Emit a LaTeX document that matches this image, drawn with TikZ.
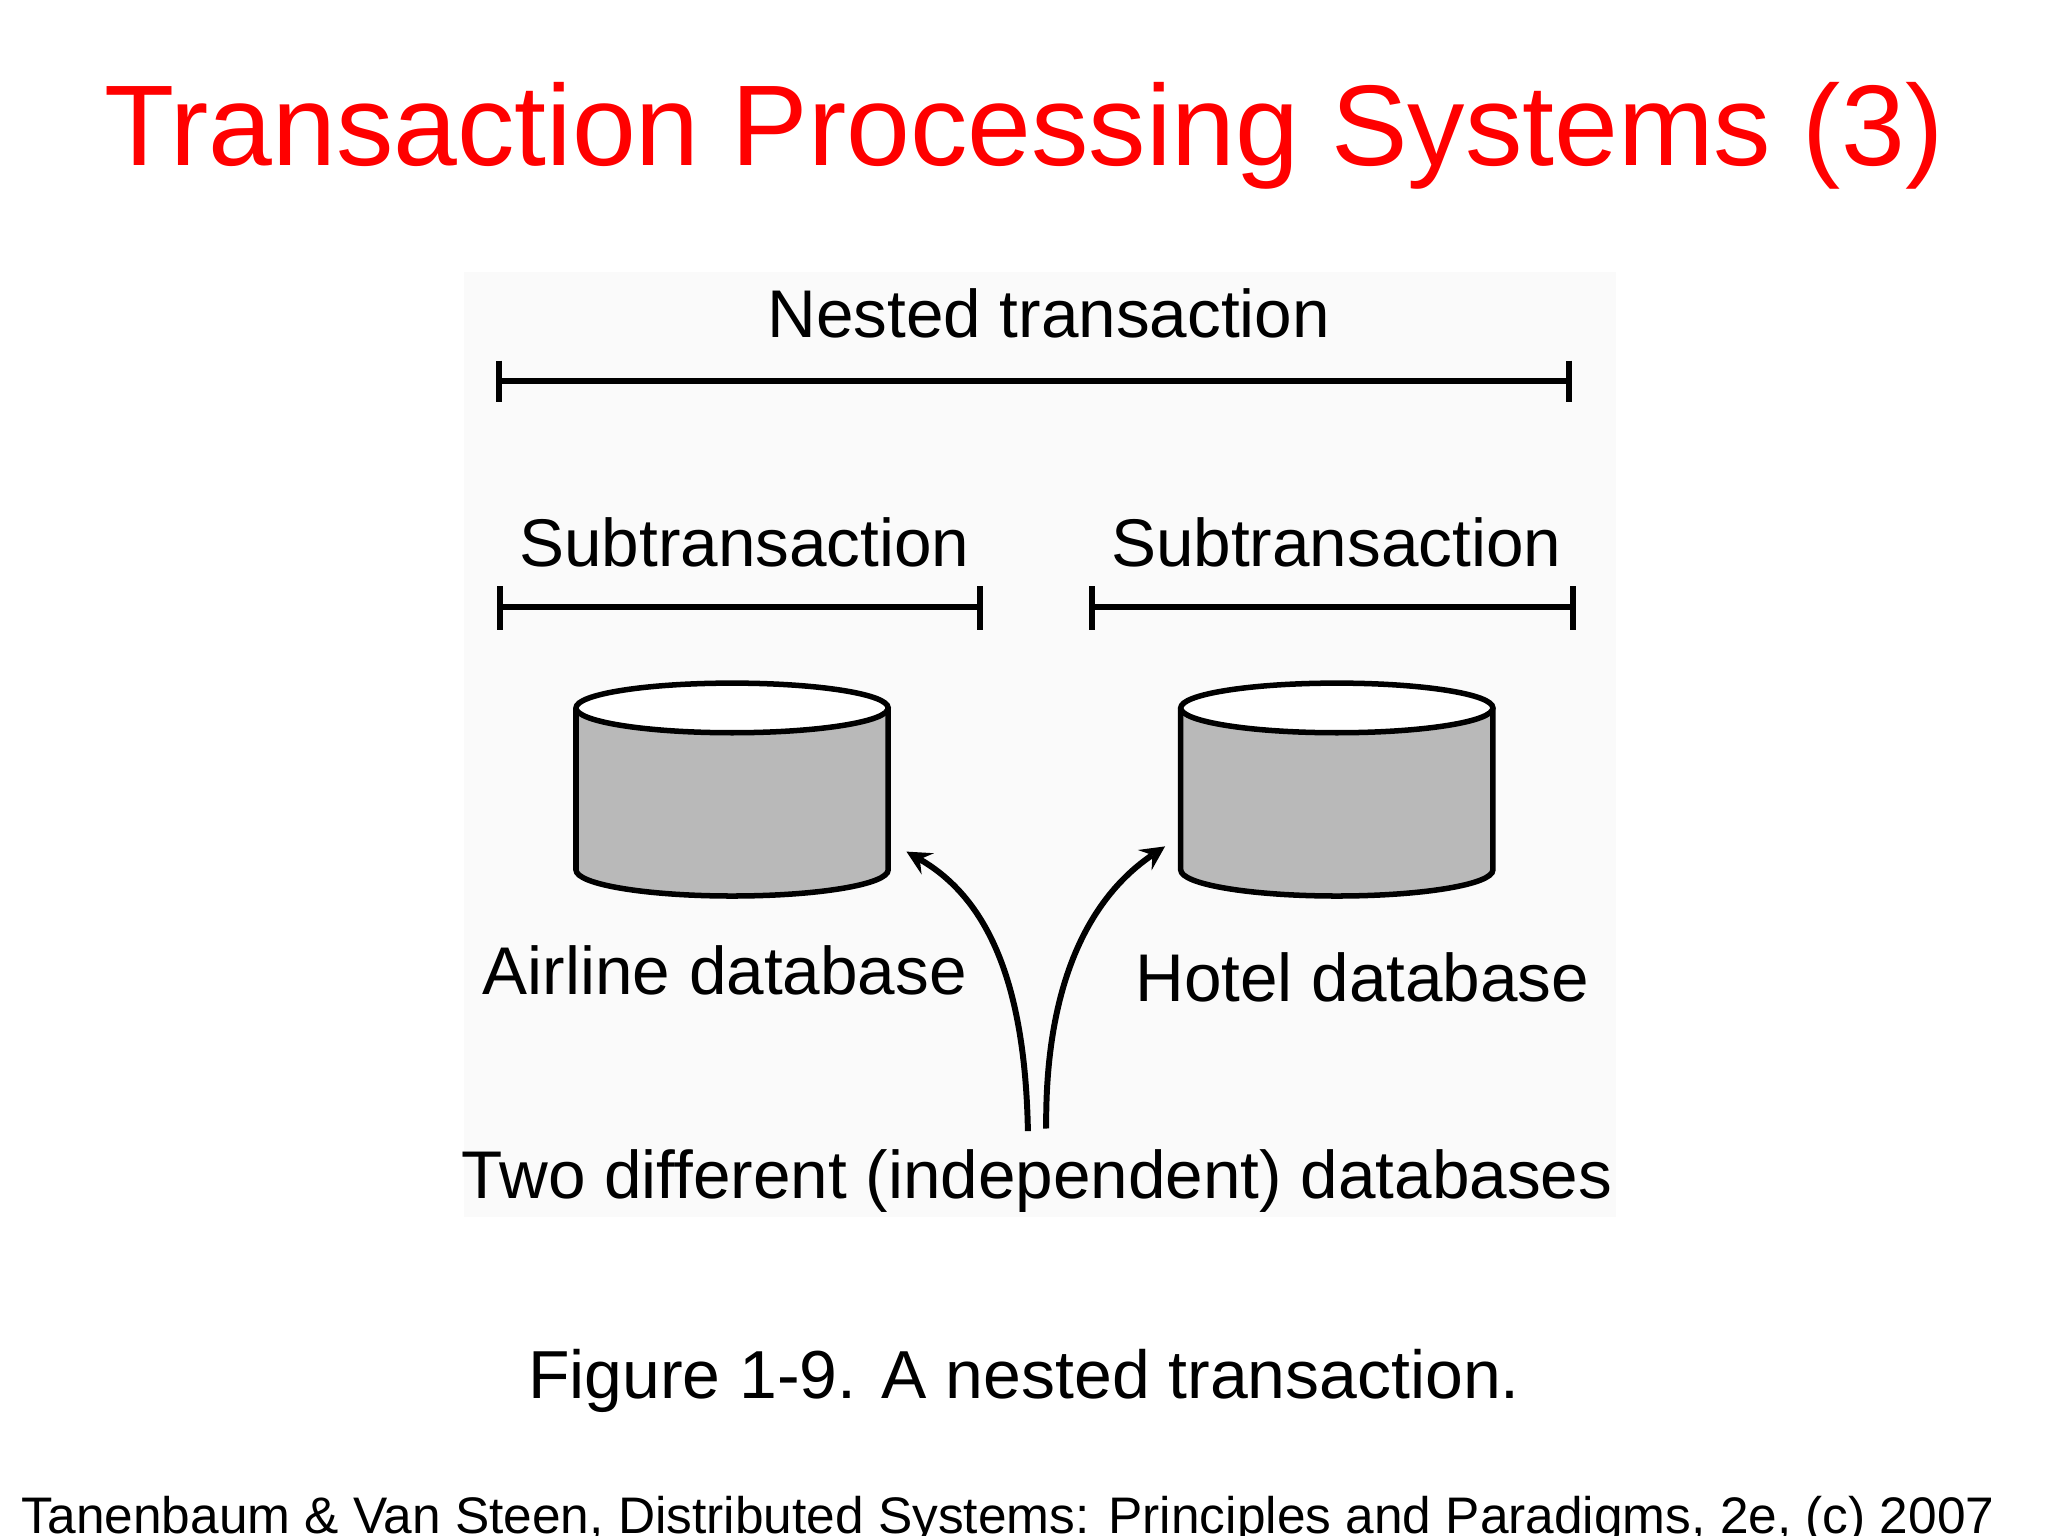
\documentclass[tikz,border=0pt]{standalone}
\usepackage{fontspec}
\setmainfont{Liberation Sans}
\begin{document}
\begin{tikzpicture}[x=0.1mm,y=-0.1mm,
  bar/.style={line width=1.3pt},
  lbl/.style={font=\fontsize{14.7}{17}\selectfont, inner sep=0pt},
  db/.style={draw, line width=1.2pt, fill=gray!55}]
\useasboundingbox (0,0) rectangle (1568,1176);
\fill[white] (0,0) rectangle (1568,1176);
\fill[black!2] (355,208) rectangle (1237,932);
\node[text=red, font=\fontsize{25}{30}\selectfont, inner sep=0pt] (title) at (784,104) {Transaction Processing Systems (3)};
\node[lbl] (nt) at (803,240) {Nested transaction};
\coordinate (n1) at (382,292); \coordinate (n2) at (1201,292);
\draw[bar] (n1) -- (n2);
\draw[bar] (382,276) -- (382,308); \draw[bar] (1201,276) -- (1201,308);
\node[lbl] (s1) at (570,415) {Subtransaction};
\node[lbl] (s2) at (1023,415) {Subtransaction};
\draw[bar] (383,465) -- (750,465);
\draw[bar] (383,449) -- (383,482); \draw[bar] (750,449) -- (750,482);
\draw[bar] (836,465) -- (1204,465);
\draw[bar] (836,449) -- (836,482); \draw[bar] (1204,449) -- (1204,482);
\foreach \cx/\nm in {560.5/a, 1023.5/h}{
  \draw[db] (\cx-119.5,542) -- (\cx-119.5,666) arc[start angle=180,end angle=360,x radius=119.5,y radius=-20] -- (\cx+119.5,542);
  \draw[line width=1.2pt, fill=white] (\cx,542) ellipse[x radius=119.5, y radius=19];
  \coordinate (\nm) at (\cx,600);
}
\node[lbl] (al) at (555,743) {Airline database};
\node[lbl] (hl) at (1043,748) {Hotel database};
\node[lbl] (two) at (794,904) {Two different (independent) databases};
\coordinate (t1) at (787,866); \coordinate (t2) at (801,864);
\coordinate (ea) at (694,652); \coordinate (eh) at (892,648);
\draw[line width=1.3pt,-stealth] (t1) .. controls (785,760) and (760,690) .. (ea);
\draw[line width=1.3pt,-stealth] (t2) .. controls (800,760) and (830,690) .. (eh);
\node[font=\fontsize{14.8}{18}\selectfont, inner sep=0pt] (cap) at (784,1057) {Figure 1-9. A nested transaction.};
\node[font=\fontsize{11.2}{14}\selectfont, inner sep=0pt, anchor=base west] (foot) at (16,1174) {Tanenbaum \& Van Steen, Distributed Systems: Principles and Paradigms, 2e, (c) 2007};
\end{tikzpicture}
\end{document}
